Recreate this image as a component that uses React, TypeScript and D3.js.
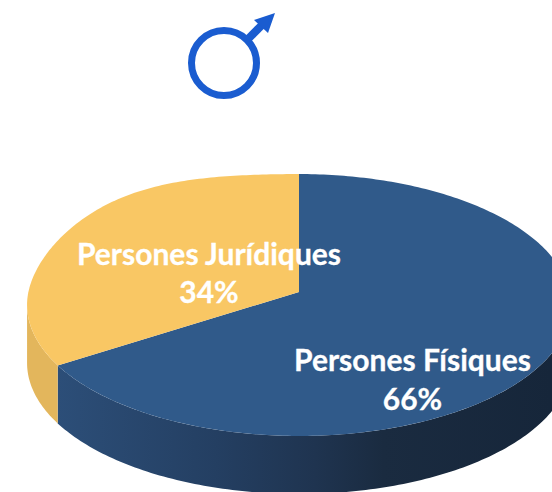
import React from "react";
import * as d3 from "d3";

const categories = ["Persones Físiques", "Persones Jurídiques"];
const shares = [66, 34];
const topColors = ["#305a8a", "#f9c764"];
const sideStops = [
  [["0%", "#2c4e78"], ["32%", "#243f62"], ["52%", "#1f3450"], ["66%", "#1a2b40"], ["100%", "#16263a"]],
  [["0%", "#e3b65c"], ["100%", "#e3b65c"]],
];
const labelLines = [
  [{ text: categories[0], x: 412.5, y: 371 }, { text: "66%", x: 412.5, y: 410 }],
  [{ text: categories[1], x: 209, y: 265 }, { text: "34%", x: 209, y: 303 }],
];

const W = 552, H = 492;
const cx = 299, apexY = 292, rx = 270.6, depth = 58;
const persp = -0.0992, ya = 100.7, shoulder = 8;
const silhouetteR = Math.PI - Math.acos(0.0992);
const silhouetteL = Math.PI + Math.acos(0.0992);

function project(angle: number, drop = 0): [number, number] {
  const u = Math.sin(angle), v = -Math.cos(angle);
  const d = 1 + persp * v;
  // the far-left shoulder of the rim sits a little higher than a true ellipse
  const phi = angle - (3 * Math.PI) / 2;
  const bump = phi > 0 ? shoulder * Math.sin(2 * phi) ** 2 : 0;
  return [cx + (rx * u) / d, (ya * v + apexY) / d + drop - bump];
}

const line = d3.line<[number, number]>().x(d => d[0]).y(d => d[1]);
const arcs = d3.pie<number>().sort(null)(shares);

function rim(a0: number, a1: number, drop = 0): [number, number][] {
  const n = Math.max(2, Math.ceil(Math.abs(a1 - a0) * 60));
  return d3.range(n + 1).map(i => project(a0 + ((a1 - a0) * i) / n, drop));
}

export default function App() {
  return (
    <svg width={W} height={H} viewBox={`0 0 ${W} ${H}`}
      style={{ position: "absolute", left: 0, top: 0, display: "block", background: "#fff" }}>
      <defs>
        {sideStops.map((stops, i) => (
          <linearGradient key={i} id={`side${i}`} gradientUnits="userSpaceOnUse" x1={58} x2={552} y1={0} y2={0}>
            {stops.map(([o, c]) => <stop key={o} offset={o} stopColor={c} />)}
          </linearGradient>
        ))}
      </defs>
      <g fill="none" stroke="#1a5cd0">
        <circle cx={224} cy={63} r={32.5} strokeWidth={7} />
        <line x1={247} y1={40} x2={264} y2={23} strokeWidth={8} />
      </g>
      <polygon points="275,13 254,20 268,33" fill="#1a5cd0" />
      {arcs.map((a, i) => {
        const startA = i === 0 ? silhouetteR : a.startAngle;
        const endA = i === 0 ? a.endAngle : silhouetteL;
        const top = rim(startA, endA);
        const bottom = rim(endA, startA, depth);
        return <path key={i} d={line([...top, ...bottom])! + "Z"} fill={`url(#side${i})`} />;
      })}
      {arcs.map((a, i) => {
        const pts = rim(a.startAngle, a.endAngle);
        return <path key={i} d={line([[cx, apexY], ...pts])! + "Z"} fill={topColors[i]} />;
      })}
      {labelLines.flat().map(l => (
        <text key={l.text} x={l.x} y={l.y} textAnchor="middle" fill="#fff" stroke="#fff" strokeWidth={0.3}
          fontFamily="Lato, 'Open Sans', sans-serif" fontWeight={700} fontSize={30}>{l.text}</text>
      ))}
    </svg>
  );
}
